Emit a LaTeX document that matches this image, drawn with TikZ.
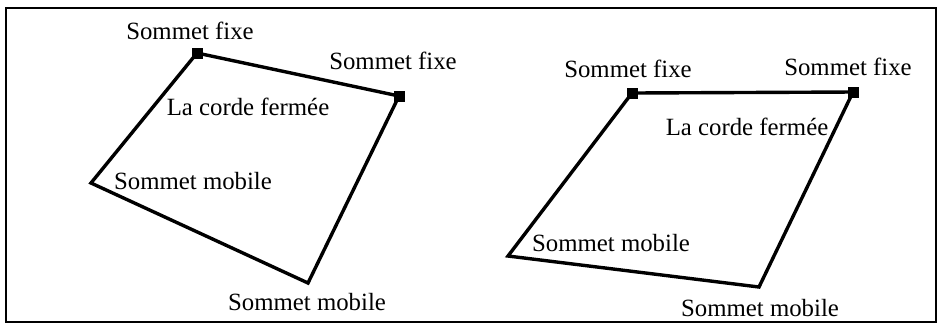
\documentclass[tikz,border=0pt]{standalone}
\usepackage{fontspec}
\setmainfont{Liberation Serif}
\begin{document}
\begin{tikzpicture}[x=0.5pt,y=-0.5pt,
  fixe/.style={fill=black,inner sep=0pt,minimum size=5.5pt,rectangle},
  corde/.style={line width=1.7pt},
  lbl/.style={font=\fontsize{12.4}{14}\selectfont,inner sep=0pt}]
\useasboundingbox (0,0) rectangle (941,329);
\draw[line width=0.8pt] (6,8) rectangle (936,322);
% left
\node[fixe] (a1) at (197,53) {};
\node[fixe] (b1) at (399,96) {};
\coordinate (c1) at (308,283);
\coordinate (d1) at (91,183);
\draw[corde] (a1.center) -- (b1.center) -- (c1) -- (d1) -- cycle;
\node[fixe] at (197,53) {};
\node[fixe] at (399,96) {};
\node[lbl] (la1) at (190,31) {Sommet fixe};
\node[lbl] (lb1) at (393,61) {Sommet fixe};
\node[lbl] (lc1) at (248,107) {La corde fermée};
\node[lbl] (ld1) at (193,181) {Sommet mobile};
\node[lbl] (le1) at (307,302) {Sommet mobile};
% right
\node[fixe] (a2) at (632,93) {};
\node[fixe] (b2) at (853,92) {};
\coordinate (c2) at (759,287);
\coordinate (d2) at (508,256);
\draw[corde] (a2.center) -- (b2.center) -- (c2) -- (d2) -- cycle;
\node[fixe] at (632,93) {};
\node[fixe] at (853,92) {};
\node[lbl] (la2) at (628,69) {Sommet fixe};
\node[lbl] (lb2) at (848,67) {Sommet fixe};
\node[lbl] (lc2) at (747,127) {La corde fermée};
\node[lbl] (ld2) at (611,243) {Sommet mobile};
\node[lbl] (le2) at (760,308) {Sommet mobile};
\end{tikzpicture}
\end{document}
